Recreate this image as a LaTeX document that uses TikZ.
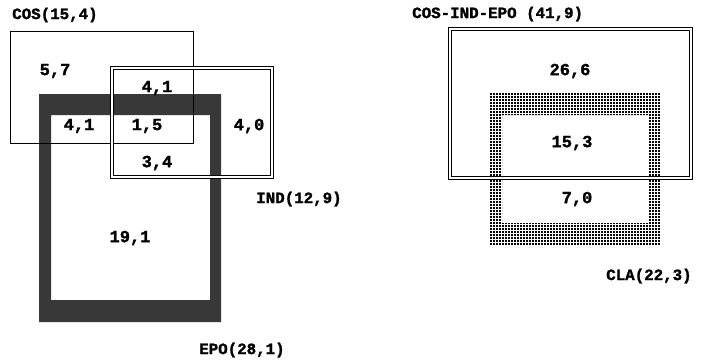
\documentclass[tikz,border=0pt]{standalone}
\usepackage{fontspec}
\setmonofont[BoldFeatures={FakeBold=1.5}]{Liberation Mono}
\usetikzlibrary{patterns}
\pgfdeclarepatternformonly{sparsedots}{\pgfpointorigin}{\pgfqpoint{2.6pt}{2.6pt}}{\pgfqpoint{2.6pt}{2.6pt}}{%
  \pgfpathrectangle{\pgfpointorigin}{\pgfqpoint{2pt}{2pt}}\pgfusepath{fill}}
\tikzset{
  capt/.style={font=\ttfamily\bfseries\fontsize{13.5}{15}\selectfont,inner sep=0pt},
  val/.style={font=\ttfamily\bfseries\fontsize{14.5}{16}\selectfont,inner sep=0pt},
  thinbox/.style={draw=black,line width=0.8pt},
  dblbox/.style={draw=black,double,double distance=1.5pt,line width=0.6pt},
  darkband/.style={fill=black!78,even odd rule},
  lightband/.style={pattern=sparsedots,pattern color=black,even odd rule},
}
\begin{document}
\begin{tikzpicture}[x=0.03cm,y=-0.03cm]
  \useasboundingbox (0,0) rectangle (707,360);
  % left: three overlapping groups
  \fill[darkband] (39,94) rectangle (221,322) (51,115) rectangle (210,300);
  \draw[thinbox] (10,31) rectangle (193,143);
  \draw[dblbox] (112,68) rectangle (272,177);
  \node[capt,anchor=west] (cos) at (12,15) {COS(15,4)};
  \node[capt,anchor=west] (ind) at (256,199) {IND(12,9)};
  \node[capt,anchor=west] (epo) at (199,350) {EPO(28,1)};
  \node[val] (v57) at (55,71) {5,7};
  \node[val] (v41a) at (157,88) {4,1};
  \node[val] (v41b) at (79,126) {4,1};
  \node[val] (v15) at (147,126) {1,5};
  \node[val] (v40) at (249,126) {4,0};
  \node[val] (v34) at (157,163) {3,4};
  \node[val] (v191) at (130,238) {19,1};
  % right: merged group and CLA
  \fill[lightband] (490,93) rectangle (660,245) (502,115) rectangle (648,223);
  \draw[dblbox] (450,29) rectangle (691,178);
  \node[capt,anchor=west] (cie) at (412,14) {COS-IND-EPO (41,9)};
  \node[capt,anchor=west] (cla) at (606,276) {CLA(22,3)};
  \node[val] (v266) at (570,71) {26,6};
  \node[val] (v153) at (572,143) {15,3};
  \node[val] (v70) at (577,199) {7,0};
\end{tikzpicture}
\end{document}
